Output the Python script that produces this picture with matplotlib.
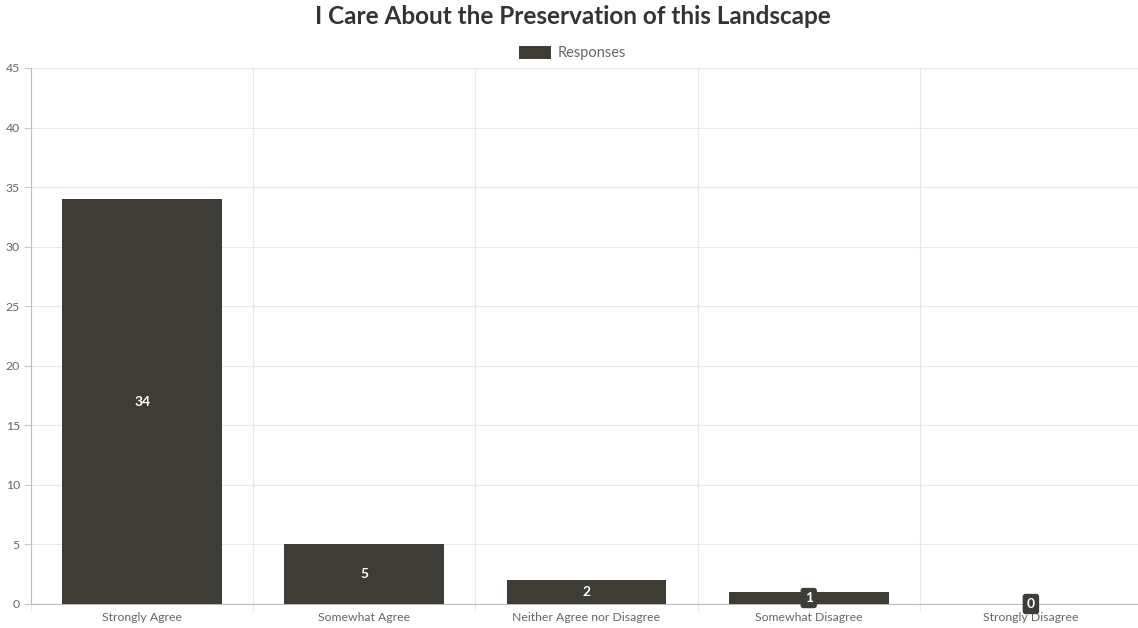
import matplotlib.pyplot as plt
import numpy as np

# Survey responses
categorias = ['Strongly Agree', 'Somewhat Agree', 'Neither Agree nor Disagree',
              'Somewhat Disagree', 'Strongly Disagree']
respuestas = [34, 5, 2, 1, 0]
yticks = [0, 5, 10, 15, 20, 25, 30, 35, 40, 45]

color_barra = '#3d3c37'
gris = '#666666'
plt.rcParams['font.family'] = ['Lato', 'DejaVu Sans']

fig = plt.figure(figsize=(11.38, 6.28), dpi=100)
ax = fig.add_axes([31 / 1138, 1 - 604 / 628, (1142 - 31) / 1138, (604 - 68) / 628])

x = np.arange(len(categorias))
ax.bar(x, respuestas, width=0.72, color=color_barra, zorder=3, label='Responses')

# Value labels centred on each bar
for xi, v in zip(x, respuestas):
    ax.text(xi, v / 2, str(v), ha='center', va='center', color='white',
            fontsize=10, fontweight='bold', zorder=5,
            bbox=dict(boxstyle='round,pad=0.3,rounding_size=0.2',
                      fc=color_barra, ec='none'))

ax.set_xlim(-0.5, len(categorias) - 0.5)
ax.set_ylim(0, 45)
ax.set_yticks(yticks)
ax.set_xticks(x)
ax.set_xticklabels(categorias)
ax.set_xticks(np.arange(len(categorias) + 1) - 0.5, minor=True)

ax.grid(axis='y', color='#e8e8e8', linewidth=0.8, zorder=0)
ax.grid(axis='x', which='minor', color='#e8e8e8', linewidth=0.8, zorder=0)
ax.tick_params(axis='x', which='major', length=0, pad=6, labelsize=8.8, labelcolor=gris)
ax.tick_params(axis='x', which='minor', length=6, color='#e8e8e8')
ax.tick_params(axis='y', length=5, color='#c8c8c8', pad=3, labelsize=8.8, labelcolor=gris)

for s in ['top', 'right']:
    ax.spines[s].set_visible(False)
for s in ['left', 'bottom']:
    ax.spines[s].set_color('#bbbbbb')
    ax.spines[s].set_linewidth(0.8)

fig.text(0.503, 1 - 17 / 628, 'I Care About the Preservation of this Landscape',
         ha='center', va='center', fontsize=17.5, fontweight='bold', color='#333333')
fig.legend(loc='center', bbox_to_anchor=(0.503, 1 - 53 / 628), frameon=False,
           fontsize=10.5, labelcolor=gris, handlelength=2.2, handleheight=1.0,
           handletextpad=0.5)

fig.savefig('out.png', dpi=100)
